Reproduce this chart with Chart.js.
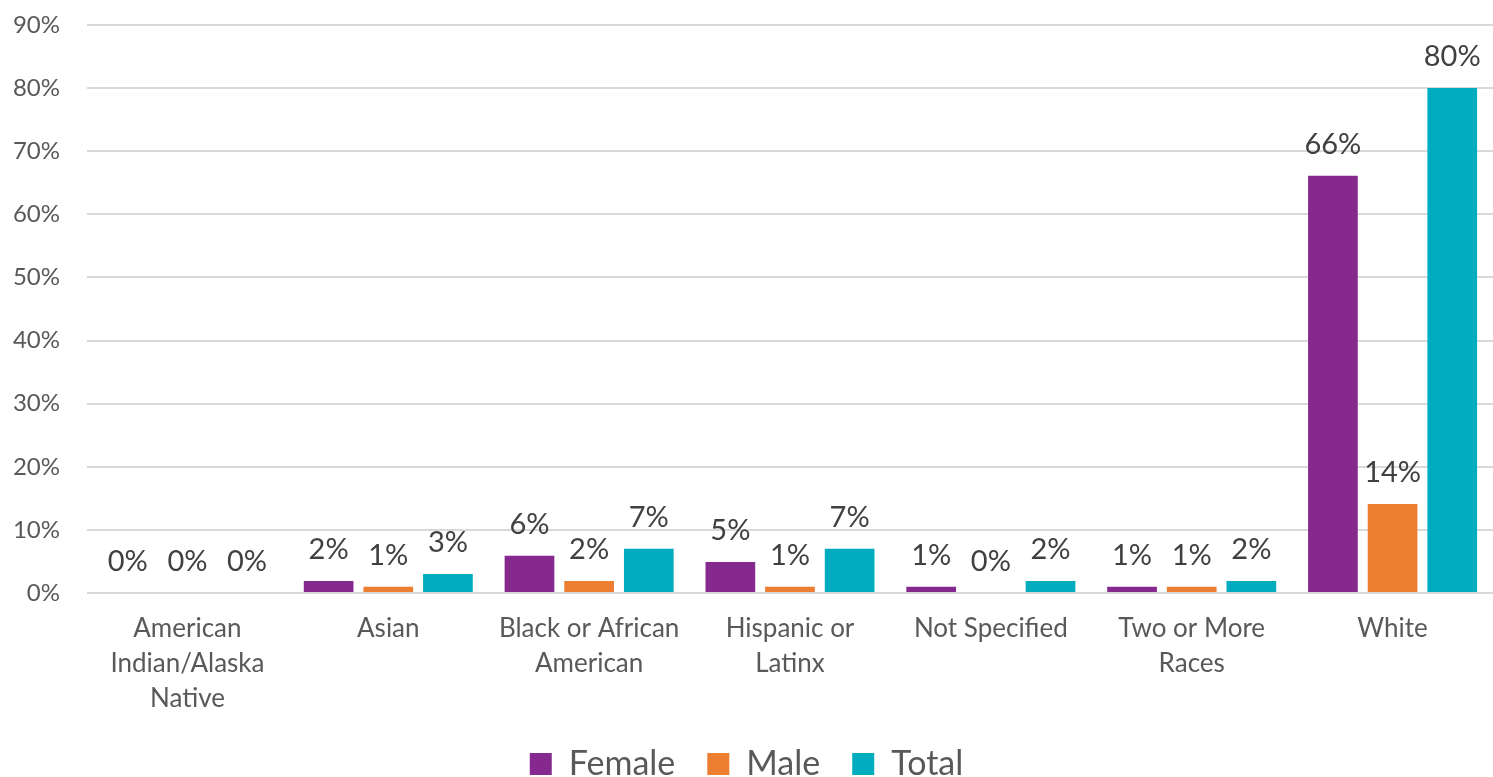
<!DOCTYPE html>
<html>
<head>
<meta charset="utf-8">
<script src="https://cdn.jsdelivr.net/npm/chart.js@4"></script>
<style>
  html, body { margin: 0; padding: 0; background: #fff; }
  #wrap { width: 1493px; height: 777px; }
</style>
</head>
<body>
<div id="wrap"><canvas id="myChart" width="1493" height="777"></canvas></div>
<script>
const categories = [
  ['American', 'Indian/Alaska', 'Native'],
  ['Asian'],
  ['Black or African', 'American'],
  ['Hispanic or', 'Latinx'],
  ['Not Specified'],
  ['Two or More', 'Races'],
  ['White']
];
const female = [0, 1.9, 5.9, 4.9, 1.0, 1.0, 66.1];
const male   = [0, 1.0, 1.9, 1.0, 0, 1.0, 14.1];
const total  = [0, 3.0, 7.0, 7.0, 1.9, 1.9, 80.0];
const femaleLabels = ['0%', '2%', '6%', '5%', '1%', '1%', '66%'];
const maleLabels   = ['0%', '1%', '2%', '1%', '0%', '1%', '14%'];
const totalLabels  = ['0%', '3%', '7%', '7%', '2%', '2%', '80%'];

const fontFam = 'Lato, "Open Sans", sans-serif';

// draws the value text above each bar
const barLabels = {
  id: 'barLabels',
  afterDatasetsDraw(chart) {
    const ctx = chart.ctx;
    ctx.save();
    ctx.font = '29px ' + fontFam;
    ctx.fillStyle = '#404040';
    ctx.textAlign = 'center';
    ctx.textBaseline = 'middle';
    chart.data.datasets.forEach((ds, i) => {
      const meta = chart.getDatasetMeta(i);
      meta.data.forEach((bar, j) => {
        ctx.fillText(ds.valueText[j], bar.x, bar.y - 31);
      });
    });
    ctx.restore();
  }
};

const ctx = document.getElementById('myChart').getContext('2d');
const myChart = new Chart(ctx, {
  type: 'bar',
  data: {
    labels: categories,
    datasets: [
      { label: 'Female', data: female, valueText: femaleLabels, backgroundColor: '#85298E' },
      { label: 'Male', data: male, valueText: maleLabels, backgroundColor: '#ED7D31' },
      { label: 'Total', data: total, valueText: totalLabels, backgroundColor: '#00ACBD' }
    ]
  },
  options: {
    responsive: false,
    animation: false,
    layout: { padding: { top: 25, right: 0, bottom: 0, left: 0 } },
    datasets: {
      bar: { barPercentage: 0.833, categoryPercentage: 0.891 }
    },
    scales: {
      x: {
        grid: { display: false, drawTicks: false },
        border: { display: false },
        ticks: {
          color: '#595959',
          font: { family: fontFam, size: 26, lineHeight: 1.35 },
          padding: 18,
          maxRotation: 0,
          autoSkip: false
        },
        afterFit: s => {
          s.height = 122;
          s.paddingLeft = 0;
          s.paddingRight = 0;
        }
      },
      y: {
        min: 0,
        max: 90,
        grid: { color: '#d9d9d9', lineWidth: 2, drawTicks: false },
        border: { display: false },
        ticks: {
          stepSize: 10,
          color: '#595959',
          font: { family: fontFam, size: 24 },
          padding: 27,
          callback: v => v + '%'
        },
        afterFit: s => {
          s.width = 87;
          s.paddingTop = 0;
          s.paddingBottom = 0;
        }
      }
    },
    plugins: {
      legend: {
        position: 'bottom',
        maxHeight: 62,
        labels: {
          color: '#595959',
          font: { family: fontFam, size: 34 },
          boxWidth: 22,
          boxHeight: 22,
          padding: 32
        }
      },
      tooltip: { enabled: false }
    }
  },
  plugins: [barLabels]
});
</script>
</body>
</html>
